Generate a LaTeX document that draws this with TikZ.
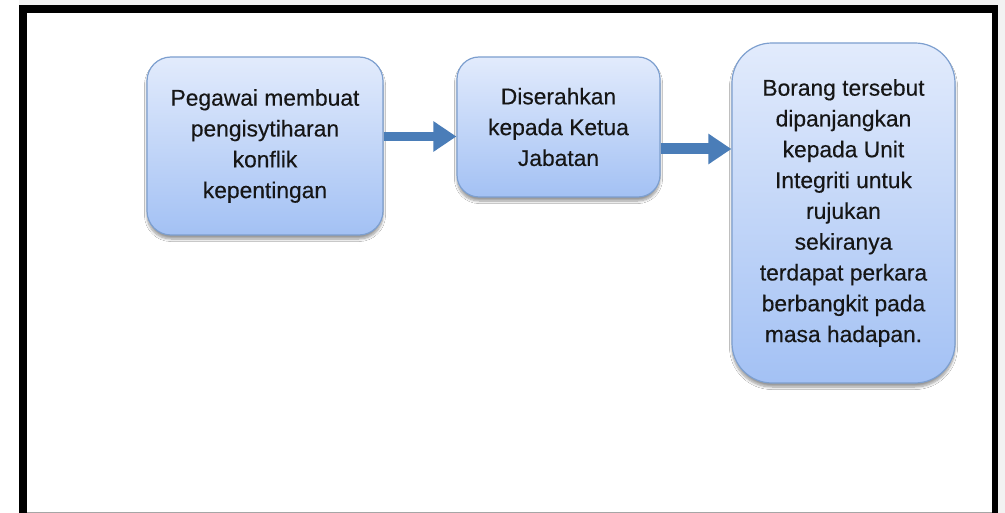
\documentclass[tikz,border=0pt]{standalone}
\usepackage{fontspec}
\setmainfont{Liberation Sans}[BoldFont=Liberation Sans, BoldFeatures={FakeBold=0.35}]
\usetikzlibrary{shadows.blur,arrows.meta}
\definecolor{boxtop}{HTML}{E2EBFC}
\definecolor{boxbot}{HTML}{A3C1F4}
\definecolor{boxline}{HTML}{7D9FCF}
\definecolor{arrowblue}{HTML}{4A7DB8}
\definecolor{txt}{HTML}{161616}
\tikzset{
  flowbox/.style={rectangle, draw=boxline, line width=1.2pt, top color=boxtop, bottom color=boxbot,
    align=center, text=txt, font=\bfseries\fontsize{22.8}{30.8}\selectfont, inner sep=0pt,
    blur shadow={shadow blur steps=8, shadow xshift=0pt, shadow yshift=-4pt, shadow opacity=40, shadow blur radius=2.5pt}},
  flowarrow/.style={draw=arrowblue, -{Triangle[width=29pt,length=23pt]}, color=arrowblue}
}
\begin{document}
\begin{tikzpicture}[x=1pt,y=-1pt]
\useasboundingbox (0,0) rectangle (1005,513);
\fill[white] (0,0) rectangle (1005,513);
\fill[black!5] (998,0) rectangle (1005,513);
\fill[black!5] (19,0) rectangle (998,5);
% frame
\fill[black] (19,5) rectangle (998,13);
\fill[black] (19,5) rectangle (27,513);
\fill[black] (992,5) rectangle (998,513);
\fill[black!35] (27,511.5) rectangle (992,513);
% boxes
\node[flowbox, rounded corners=24pt, minimum width=236pt, minimum height=178pt] (b1) at (265,146)
  {Pegawai membuat\\pengisytiharan\\konflik\\kepentingan};
\node[flowbox, rounded corners=22pt, minimum width=203pt, minimum height=140pt] (b2) at (558.5,127)
  {Diserahkan\\kepada Ketua\\Jabatan};
\node[flowbox, rounded corners=40pt, minimum width=223pt, minimum height=340pt] (b3) at (843.5,213)
  {Borang tersebut\\dipanjangkan\\kepada Unit\\Integriti untuk\\rujukan\\sekiranya\\terdapat perkara\\berbangkit pada\\masa hadapan.};
% arrows
\coordinate (y1) at (0,136.5);
\coordinate (y2) at (0,149);
\draw[flowarrow, line width=9.5pt] (b1.east |- y1) -- (b2.west |- y1);
\draw[flowarrow, line width=11pt] (b2.east |- y2) -- (b3.west |- y2);
\end{tikzpicture}
\end{document}
